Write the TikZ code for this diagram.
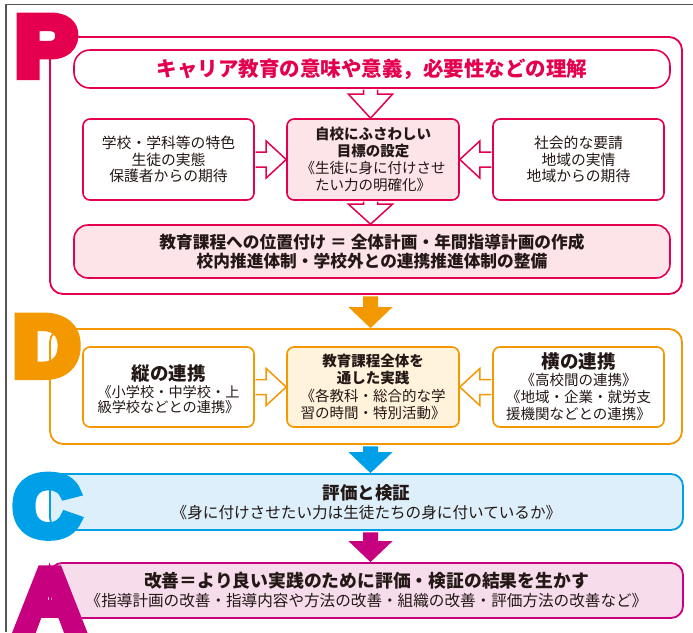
\documentclass[tikz,border=0pt]{standalone}
\usepackage{fontspec}
\usetikzlibrary{calc}
\newfontfamily\jp{Noto Sans CJK JP}
\newfontfamily\heavy{Liberation Sans}
\newcommand\setfs[2]{\fontsize{#1}{#2}\selectfont}
\newcommand\strokedtext[1]{\special{pdf:literal direct 2 Tr 9 w}#1\special{pdf:literal direct 0 Tr 1 w}}
\definecolor{pk}{HTML}{E4004F}
\definecolor{pkfill}{HTML}{FCE4E9}
\definecolor{og}{HTML}{F39800}
\definecolor{ogfill}{HTML}{FFF3DC}
\definecolor{bl}{HTML}{00A0E9}
\definecolor{blfill}{HTML}{DCEFFB}
\definecolor{mg}{HTML}{C7007F}
\definecolor{mgfill}{HTML}{F7DDEC}
\definecolor{txt}{HTML}{231815}
\definecolor{framec}{HTML}{555555}
\tikzset{
  outer/.style={draw=#1, line width=1.8, rounded corners=13, minimum width=632, inner sep=0},
  inbox/.style={draw=#1, line width=1.6, rounded corners=7, minimum width=171, minimum height=81,
    inner sep=0, align=center, font=\jp\setfs{14.8}{16.6}, text=txt},
  widebox/.style={draw=#1, line width=1.6, rounded corners=14, minimum width=596,
    inner sep=0, align=center, text=txt},
  bandbox/.style={draw=#1, line width=1.8, rounded corners=12, minimum width=633,
    inner sep=0, align=center, text=txt, font=\jp\setfs{15.6}{19}},
  letter/.style={font=\heavy\bfseries\setfs{85}{85}, inner sep=0, anchor=base west, xscale=1.08},
  hollow/.style={draw=#1, line width=1.5, fill=white, line join=miter},
}
\newcommand\hdown[4]{% from, to, color, head length
  \draw[hollow=#3] ($(#1.south -| ax)+(-7,0.9)$) -- ($(#2.north -| ax)+(-7,-#4)$)
    -- ($(#2.north -| ax)+(-22,-#4)$) -- (#2.north -| ax) -- ($(#2.north -| ax)+(22,-#4)$)
    -- ($(#2.north -| ax)+(7,-#4)$) -- ($(#1.south -| ax)+(7,0.9)$);}
\newcommand\hright[3]{% from, to, color
  \draw[hollow=#3] ($(#1.east)+(0.9,-7.5)$) -- ($(#2.west)+(-20,-7.5)$)
    -- ($(#2.west)+(-20,-18.5)$) -- (#2.west) -- ($(#2.west)+(-20,18.5)$)
    -- ($(#2.west)+(-20,7.5)$) -- ($(#1.east)+(0.9,7.5)$);}
\newcommand\hleft[3]{% from, to, color
  \draw[hollow=#3] ($(#1.west)+(-0.9,-7.5)$) -- ($(#2.east)+(20,-7.5)$)
    -- ($(#2.east)+(20,-18.5)$) -- (#2.east) -- ($(#2.east)+(20,18.5)$)
    -- ($(#2.east)+(20,7.5)$) -- ($(#1.west)+(-0.9,7.5)$);}
\newcommand\sdown[3]{% from, to, color
  \fill[#3] ($(#1.south -| ax)+(-7.5,1.5)$) -- ($(#2.north -| ax)+(-7.5,-21)$)
    -- ($(#2.north -| ax)+(-22,-21)$) -- (#2.north -| ax) -- ($(#2.north -| ax)+(22,-21)$)
    -- ($(#2.north -| ax)+(7.5,-21)$) -- ($(#1.south -| ax)+(7.5,1.5)$) -- cycle;}
\begin{document}
\begin{tikzpicture}[x=1pt,y={(0pt,-1pt)}]
\useasboundingbox[fill=white] (0,0) rectangle (693,632);
\draw[framec, line width=1.4] (6,632) -- (6,4.5) -- (693,4.5);
\coordinate (ax) at (370.5,0);
% P
\node[outer=pk, minimum height=257] (P) at (366,165.5) {};
\node[widebox=pk, rounded corners=16, minimum height=38, text=pk, font=\jp\bfseries\setfs{20.5}{24}] (T) at (372,69)
  {キャリア教育の意味や意義，必要性などの理解};
\node[inbox=pk] (pl) at (168.5,159.5) {学校・学科等の特色\\生徒の実態\\保護者からの期待};
\node[inbox=pk, fill=pkfill, minimum width=172, font=\jp\setfs{14.5}{17}] (pc) at (373,159.5)
  {\textbf{自校にふさわしい}\\\textbf{目標の設定}\\《生徒に身に付けさせ\\たい力の明確化》};
\node[inbox=pk] (pr) at (578.5,159.5) {社会的な要請\\地域の実情\\地域からの期待};
\node[widebox=pk, fill=pkfill, minimum height=53, font=\jp\bfseries\setfs{16.7}{19}] (pb) at (372,251.5)
  {教育課程への位置付け ＝ 全体計画・年間指導計画の作成\\校内推進体制・学校外との連携推進体制の整備};
% D
\node[outer=og, minimum height=115] (D) at (366,386.5) {};
\node[inbox=og, minimum height=80] (dl) at (168.5,387) {};
\node[inner sep=0, align=center, text=txt, font=\jp\setfs{14.2}{15}] (dlt) at ($(dl.center)+(0,2)$)
  {{\bfseries\setfs{18.5}{20}縦の連携}\\[2pt]《小学校・中学校・上\\級学校などとの連携》};
\node[inbox=og, fill=ogfill, minimum width=172, minimum height=80, font=\jp\setfs{14.5}{17.5}] (dc) at (373,387)
  {\textbf{教育課程全体を}\\\textbf{通した実践}\\《各教科・総合的な学\\習の時間・特別活動》};
\node[inbox=og, minimum height=80, font=\jp\setfs{14.5}{17}] (dr) at (578.5,387)
  {{\bfseries\setfs{18.5}{20}横の連携}\\《高校間の連携》\\《地域・企業・就労支\\援機関などとの連携》};
% C
\node[bandbox=bl, fill=blfill, minimum height=56] (C) at (366.5,502)
  {{\bfseries\setfs{17.5}{19}評価と検証}\\《身に付けさせたい力は生徒たちの身に付いているか》};
% A
\node[bandbox=mg, fill=mgfill, minimum height=55] (A) at (366.5,590.5)
  {{\bfseries\setfs{17.8}{19}改善＝より良い実践のために評価・検証の結果を生かす}\\《指導計画の改善・指導内容や方法の改善・組織の改善・評価方法の改善など》};
% arrows
\hdown{T}{pc}{pk}{24}
\hdown{pc}{pb}{pk}{20}
\hright{pl}{pc}{pk}
\hleft{pr}{pc}{pk}
\hright{dl}{dc}{og}
\hleft{dr}{dc}{og}
\sdown{P}{D}{og}
\sdown{D}{C}{bl}
\sdown{C}{A}{mg}
% letters
\node[letter, text=pk] (LP) at (15.2,75.5) {\strokedtext{P}};
\node[letter, text=og] (LD) at (13.2,375.5) {\strokedtext{D}};
\node[letter, text=bl] (LC) at (13.3,535.5) {\strokedtext{C}};
\node[letter, text=mg] (LA) at (16.5,628.4) {\strokedtext{A}};
\end{tikzpicture}
\end{document}
